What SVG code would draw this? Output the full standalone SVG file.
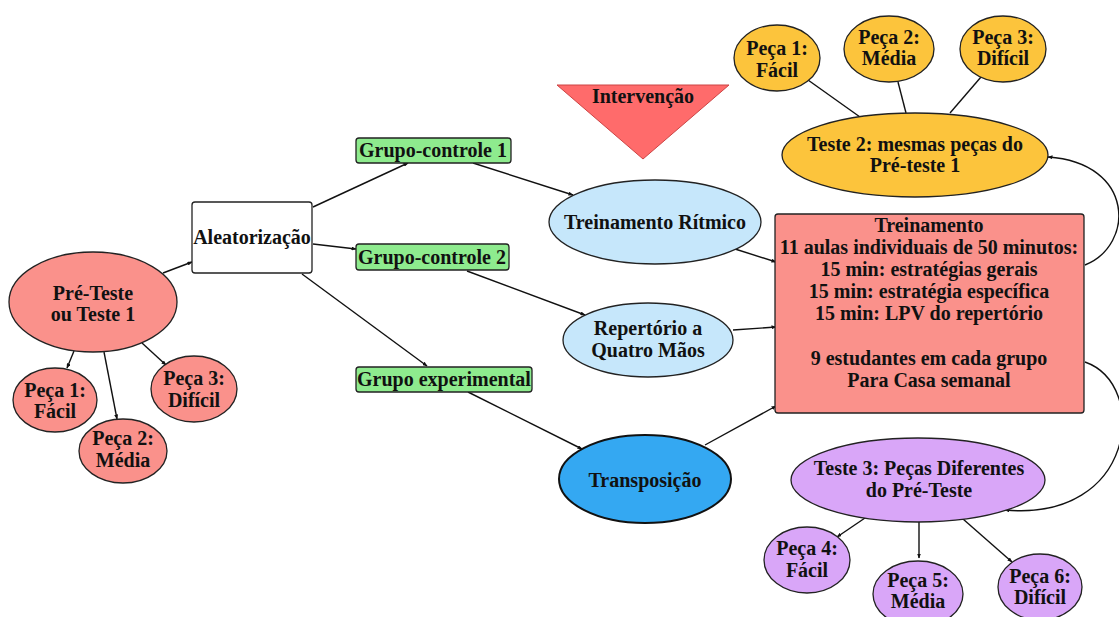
<svg xmlns="http://www.w3.org/2000/svg" width="1119" height="617" viewBox="0 0 1119 617">
<style>
text{font-family:"Liberation Serif","Times New Roman",serif;font-weight:bold;font-size:20px;fill:#111;text-anchor:middle}
.s{stroke:#222;stroke-width:1.3}
.red{fill:#fa918b}
.grn{fill:#8eeb8e}
.blu{fill:#c6e7fb}
.yel{fill:#fcc43c}
.pur{fill:#d9a6f8}
.c{fill:none;stroke:#111;stroke-width:1.4}
</style>
<defs>
<marker id="a" markerWidth="5" markerHeight="4" refX="4.5" refY="2" orient="auto" markerUnits="userSpaceOnUse">
<path d="M0,0 L5,2 L0,4 z" fill="#111"/>
</marker>
</defs>
<rect width="1119" height="617" fill="#fff"/>
<g id="connectors">
<line class="c" x1="163" y1="273" x2="192" y2="262" marker-end="url(#a)"/>
<line class="c" x1="74" y1="351" x2="67" y2="368" marker-end="url(#a)"/>
<line class="c" x1="104" y1="352" x2="117" y2="419" marker-end="url(#a)"/>
<line class="c" x1="142" y1="343" x2="166" y2="365" marker-end="url(#a)"/>
<line class="c" x1="313" y1="207" x2="408" y2="163" marker-end="url(#a)"/>
<line class="c" x1="313" y1="244" x2="356" y2="249" marker-end="url(#a)"/>
<line class="c" x1="302" y1="274" x2="427" y2="366" marker-end="url(#a)"/>
<line class="c" x1="473" y1="163" x2="573" y2="195" marker-end="url(#a)"/>
<line class="c" x1="467" y1="271" x2="585" y2="315" marker-end="url(#a)"/>
<line class="c" x1="468" y1="392" x2="582" y2="449" marker-end="url(#a)"/>
<line class="c" x1="735" y1="249" x2="776" y2="262" marker-end="url(#a)"/>
<line class="c" x1="733" y1="330" x2="776" y2="327" marker-end="url(#a)"/>
<line class="c" x1="705" y1="445" x2="776" y2="406" marker-end="url(#a)"/>
<line class="c" x1="808" y1="80" x2="860" y2="117"/>
<line class="c" x1="898" y1="82" x2="906" y2="113"/>
<line class="c" x1="981" y1="77" x2="950" y2="113"/>
<path class="c" d="M1085,265 C1135,245 1135,163 1048,157" marker-end="url(#a)"/>
<path class="c" d="M1085,362 C1150,385 1135,522 1005,510" marker-end="url(#a)"/>
<line class="c" x1="865" y1="518" x2="837" y2="537" marker-end="url(#a)"/>
<line class="c" x1="919" y1="522" x2="919" y2="558" marker-end="url(#a)"/>
<line class="c" x1="963" y1="519" x2="1012" y2="562" marker-end="url(#a)"/>
</g>
<g id="pre-teste"><ellipse class="s red" cx="93" cy="302" rx="84" ry="50"/><text x="93" y="300">Pré-Teste</text><text x="93" y="321">ou Teste 1</text></g>
<g id="peca1-pre"><ellipse class="s red" cx="55" cy="400" rx="42" ry="32"/><text x="55" y="397">Peça 1:</text><text x="55" y="418">Fácil</text></g>
<g id="peca2-pre"><ellipse class="s red" cx="123" cy="451" rx="44" ry="32"/><text x="123" y="445">Peça 2:</text><text x="123" y="467">Média</text></g>
<g id="peca3-pre"><ellipse class="s red" cx="194" cy="389" rx="43" ry="33"/><text x="194" y="385">Peça 3:</text><text x="194" y="407">Difícil</text></g>
<g id="aleatorizacao"><rect class="s" fill="#fff" x="192" y="202" width="120" height="71" rx="3"/><text x="252" y="244">Aleatorização</text></g>
<g id="grupo-controle-1"><rect class="s grn" x="356" y="138" width="155" height="25" rx="3"/><text x="433" y="157">Grupo-controle 1</text></g>
<g id="grupo-controle-2"><rect class="s grn" x="356" y="244" width="153" height="26" rx="3"/><text x="432" y="264">Grupo-controle 2</text></g>
<g id="grupo-experimental"><rect class="s grn" x="356" y="367" width="176" height="25" rx="3"/><text x="444" y="386">Grupo experimental</text></g>
<g id="intervencao"><polygon fill="#ff6b6b" stroke="#c44" stroke-width="1" points="557,85 729,85 643,159"/><text x="643" y="103">Intervenção</text></g>
<g id="treinamento-ritmico"><ellipse class="s blu" cx="655" cy="222" rx="106" ry="42"/><text x="655" y="229">Treinamento Rítmico</text></g>
<g id="repertorio"><ellipse class="s blu" cx="648" cy="340" rx="85" ry="37"/><text x="648" y="335">Repertório a</text><text x="648" y="357">Quatro Mãos</text></g>
<g id="transposicao"><ellipse fill="#34a8f2" stroke="#111" stroke-width="2" cx="645" cy="479" rx="86" ry="44"/><text x="645" y="487">Transposição</text></g>
<g id="treinamento"><rect class="s red" x="775" y="214" width="309" height="199" rx="3"/>
<text x="929" y="232">Treinamento</text><text x="929" y="254">11 aulas individuais de 50 minutos:</text><text x="929" y="276">15 min: estratégias gerais</text><text x="929" y="298">15 min: estratégia específica</text><text x="929" y="320">15 min: LPV do repertório</text><text x="929" y="365">9 estudantes em cada grupo</text><text x="929" y="387">Para Casa semanal</text></g>
<g id="teste2"><ellipse class="s yel" cx="915" cy="155" rx="133" ry="42"/><text x="915" y="151">Teste 2: mesmas peças do</text><text x="915" y="172">Pré-teste 1</text></g>
<g id="peca1-t2"><ellipse class="s yel" cx="777" cy="58" rx="43" ry="33"/><text x="777" y="55">Peça 1:</text><text x="777" y="77">Fácil</text></g>
<g id="peca2-t2"><ellipse class="s yel" cx="889" cy="49" rx="45" ry="33"/><text x="889" y="44">Peça 2:</text><text x="889" y="65">Média</text></g>
<g id="peca3-t2"><ellipse class="s yel" cx="1003" cy="49" rx="43" ry="33"/><text x="1003" y="44">Peça 3:</text><text x="1003" y="65">Difícil</text></g>
<g id="teste3"><ellipse class="s pur" cx="918" cy="480" rx="127" ry="42"/><text x="919" y="475">Teste 3: Peças Diferentes</text><text x="919" y="497">do Pré-Teste</text></g>
<g id="peca4"><ellipse class="s pur" cx="807" cy="560" rx="43" ry="33"/><text x="807" y="555">Peça 4:</text><text x="807" y="577">Fácil</text></g>
<g id="peca5"><ellipse class="s pur" cx="918" cy="594" rx="45" ry="33"/><text x="918" y="587">Peça 5:</text><text x="918" y="608">Média</text></g>
<g id="peca6"><ellipse class="s pur" cx="1040" cy="587" rx="42" ry="33"/><text x="1040" y="583">Peça 6:</text><text x="1040" y="604">Difícil</text></g>
</svg>
